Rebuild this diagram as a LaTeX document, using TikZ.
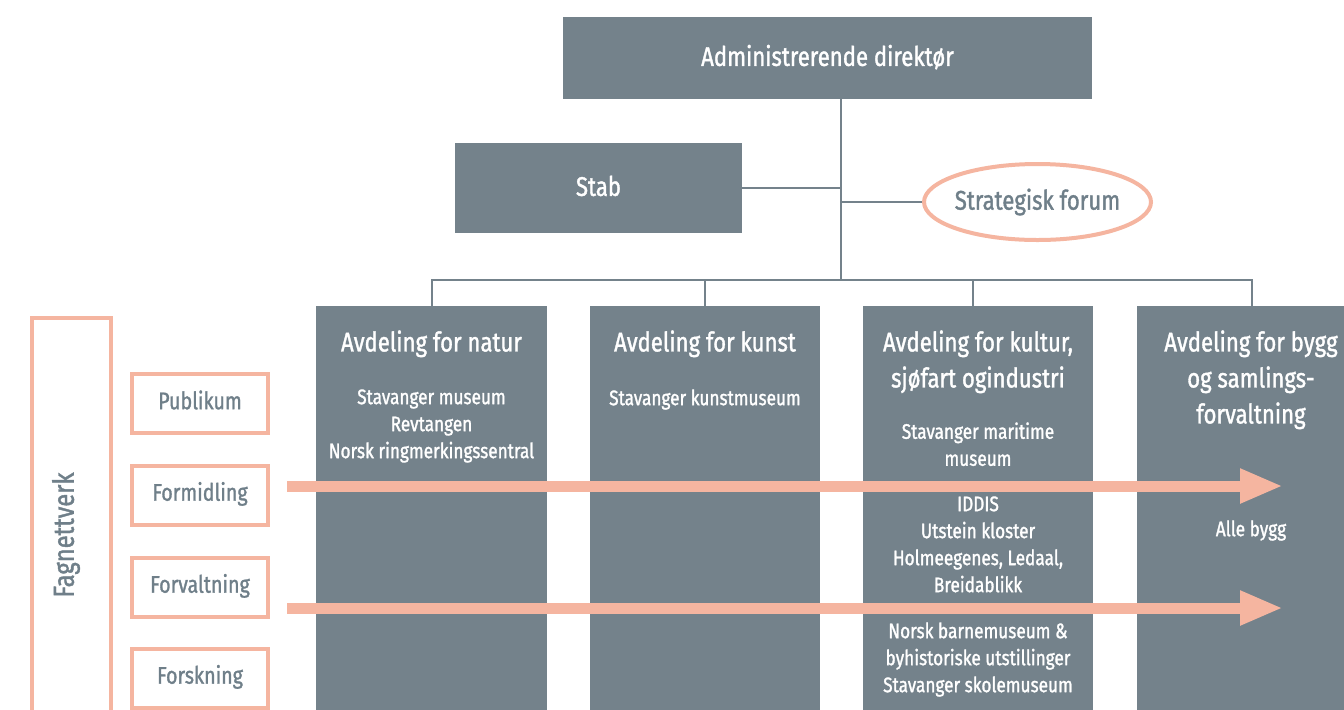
\documentclass[tikz,border=0pt]{standalone}
\usepackage{fontspec}
\setmainfont[FakeStretch=0.82,FakeBold=1.3]{Fira Sans}
\usepackage{tikz}
\usetikzlibrary{arrows.meta,shapes.geometric,positioning}
\definecolor{unitgray}{HTML}{74828B}
\definecolor{salmon}{HTML}{F5B5A0}
\definecolor{labelgray}{HTML}{6F7F89}
\tikzset{
  unit/.style={fill=unitgray,text=white,inner sep=0pt,anchor=north west},
  conn/.style={draw=unitgray,line width=1pt},
  fagbox/.style={draw=salmon,line width=2pt,fill=white,text=labelgray,inner sep=0pt,
    minimum width=68pt,minimum height=29.5pt,text height=9pt,text depth=3.3pt,font=\fontsize{12}{14}\selectfont},
  flow/.style={draw=salmon,line width=5.5pt,-{Triangle[length=21.5pt,width=16pt]}},
  depthead/.style={text=white,align=center,inner sep=0pt,anchor=north,font=\fontsize{13.5}{18}\selectfont},
  deptsub/.style={text=white,align=center,inner sep=0pt,anchor=north,font=\fontsize{10.5}{13.5}\selectfont},
}
\begin{document}
\begin{tikzpicture}[x=0.5pt,y=-0.5pt]
\useasboundingbox (0,0) rectangle (1344,709);
% top
\node[unit,minimum width=264.5pt,minimum height=41pt,anchor=center,text height=10.5pt,text depth=2.6pt,font=\fontsize{13.5}{16}\selectfont] (dir) at (827.5,58) {Administrerende direktør};
\node[unit,minimum width=143.5pt,minimum height=45pt,anchor=center,text height=10.5pt,text depth=2.6pt,font=\fontsize{13.5}{16}\selectfont] (stab) at (598.5,188) {Stab};
\node[ellipse,draw=salmon,line width=2pt,fill=white,text=labelgray,inner sep=-2pt,minimum width=113.5pt,minimum height=38pt,font=\fontsize{13.5}{16}\selectfont] (forum) at (1037.5,202) {Strategisk forum};
\coordinate (hub) at (841,280);
% departments
\node[unit,minimum width=115.5pt,minimum height=205pt] (natur) at (316,306) {};
\node[unit,minimum width=115pt,minimum height=205pt] (kunst) at (590,306) {};
\node[unit,minimum width=115pt,minimum height=205pt] (kultur) at (863,306) {};
\node[unit,minimum width=115pt,minimum height=205pt] (bygg) at (1137,306) {};
\draw[conn] (dir.south -| hub) -- (hub);
\draw[conn] (stab.east) -- (stab.east -| hub);
\draw[conn] (forum.west) -- (forum.west -| hub);
\draw[conn] (natur.north) |- (hub);
\draw[conn] (bygg.north) |- (hub);
\draw[conn] (kunst.north) -- (kunst.north |- hub);
\draw[conn] ([xshift=-2.5pt]kultur.north) -- ([xshift=-2.5pt]kultur.north |- hub);
% department texts
\node[depthead] (naturhead) at (431.5,330) {Avdeling for natur};
\node[deptsub] (natursub) at (431.5,389) {Stavanger museum\\Revtangen\\Norsk ringmerkingssentral};
\node[depthead] (kunsthead) at (705,330) {Avdeling for kunst};
\node[deptsub] (kunstsub) at (705,389) {Stavanger kunstmuseum};
\node[depthead] (kulturhead) at (978,330) {Avdeling for kultur,\\sjøfart ogindustri};
\node[deptsub] (kultursubA) at (978,422) {Stavanger maritime\\museum};
\node[deptsub] (kultursubB) at (978,496) {IDDIS\\Utstein kloster\\Holmeegenes, Ledaal,\\Breidablikk};
\node[deptsub] (kultursubC) at (978,622) {Norsk barnemuseum \&\\byhistoriske utstillinger\\Stavanger skolemuseum};
\node[depthead] (bygghead) at (1251,330) {Avdeling for bygg\\og samlings-\\forvaltning};
\node[deptsub] (byggsub) at (1251,520) {Alle bygg};
% fagnettverk
\node[draw=salmon,line width=2pt,fill=white,inner sep=0pt,minimum width=39.5pt,minimum height=205pt,anchor=north west] (fagnett) at (30,316) {};
\node[rotate=90,text=labelgray,font=\fontsize{14.5}{16}\selectfont] (fagnettlabel) at (66,535) {Fagnettverk};
\node[fagbox] (publikum) at (200,403.5) {Publikum};
\node[fagbox] (formidling) at (200,495) {Formidling};
\node[fagbox] (forvaltning) at (200,587) {Forvaltning};
\node[fagbox] (forskning) at (200,678) {Forskning};
\coordinate (formidlingend) at (1283,486);
\coordinate (forvaltningend) at (1283,608);
\draw[flow] (287,486) -- (formidlingend);
\draw[flow] (287,608) -- (forvaltningend);
\end{tikzpicture}
\end{document}
